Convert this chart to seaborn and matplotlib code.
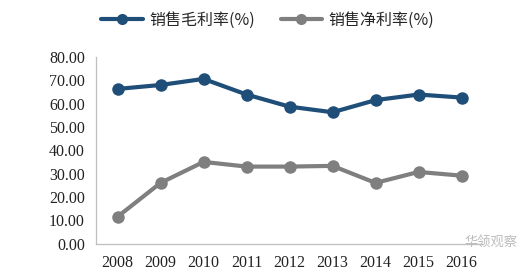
import matplotlib
matplotlib.use("Agg")
import matplotlib.pyplot as plt
import seaborn as sns
import pandas as pd
from matplotlib.lines import Line2D

years = ["2008", "2009", "2010", "2011", "2012", "2013", "2014", "2015", "2016"]
gross_margin = [66.3, 68.0, 70.6, 63.9, 58.7, 56.3, 61.5, 63.9, 62.6]
net_margin = [11.5, 26.0, 35.0, 33.0, 33.0, 33.3, 26.0, 30.7, 29.1]
series_names = ["销售毛利率(%)", "销售净利率(%)"]
colors = ["#1F4E79", "#7F7F7F"]

df = pd.DataFrame({
    "year": years * 2,
    "x": list(range(len(years))) * 2,
    "value": gross_margin + net_margin,
    "series": [series_names[0]] * len(years) + [series_names[1]] * len(years),
})

sns.set_theme(style="white")
plt.rcParams['font.family'] = ['Liberation Serif', 'Noto Sans CJK SC', 'DejaVu Sans']

fig = plt.figure(figsize=(5.25, 2.78), dpi=100)
ax = fig.add_axes([0.183, 0.124, 0.737, 0.671])

sns.lineplot(data=df, x="x", y="value", hue="series", palette=colors,
             marker="o", markersize=9, markeredgewidth=0, linewidth=3,
             ax=ax, legend=False)

ax.set_xlim(-0.5, len(years) - 0.5)
ax.set_ylim(0, 80)
ax.set_yticks(range(0, 81, 10))
ax.set_yticklabels([f"{v:.2f}" for v in range(0, 81, 10)], fontsize=11.5, color="#222222")
ax.set_xticks(range(len(years)))
ax.set_xticklabels(years, fontsize=11.5, color="#222222")
ax.set_xticks([i - 0.5 for i in range(len(years) + 1)], minor=True)
ax.tick_params(axis="x", which="major", length=0, pad=8)
ax.tick_params(axis="x", which="minor", direction="in", length=4, color="#BFBFBF", width=0.8)
ax.tick_params(axis="y", direction="in", length=4, color="#BFBFBF", width=0.8, pad=8)
ax.set_xlabel("")
ax.set_ylabel("")
for s in ["top", "right"]:
    ax.spines[s].set_visible(False)
for s in ["left", "bottom"]:
    ax.spines[s].set_color("#BFBFBF")
    ax.spines[s].set_linewidth(0.9)

handles = [Line2D([0], [0], color=c, lw=3, marker="o", markersize=8, markeredgewidth=0) for c in colors]
fig.legend(handles, series_names, loc="center", bbox_to_anchor=(0.51, 0.928), ncol=2,
           frameon=False, prop={"family": ["Noto Sans CJK SC", "DejaVu Sans"], "size": 11.5},
           handlelength=2.6, columnspacing=1.6, handletextpad=0.4)

fig.text(0.935, 0.125, "华领观察", family=["Noto Sans CJK SC"], fontsize=9.5, color="#BBBBBB",
         ha="center", va="center")

fig.savefig("out.png", dpi=100, facecolor="white")
